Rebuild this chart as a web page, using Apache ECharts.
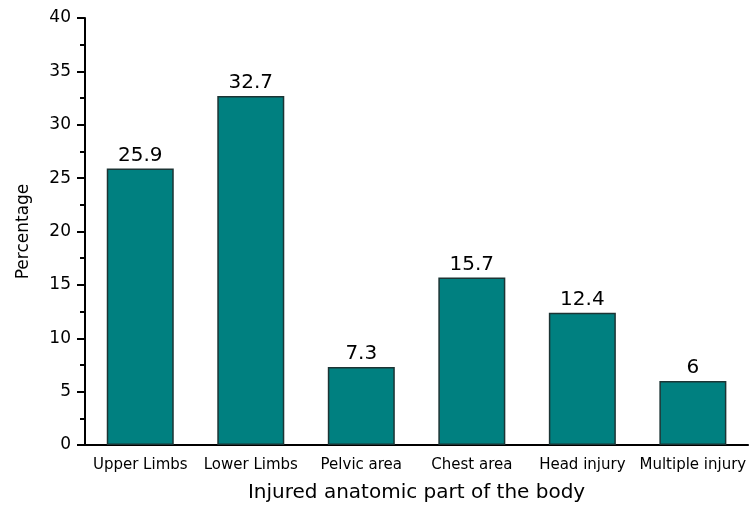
<!DOCTYPE html>
<html>
<head>
<meta charset="utf-8">
<script src="https://cdn.jsdelivr.net/npm/echarts@6/dist/echarts.min.js"></script>
<style>
  html, body { margin: 0; padding: 0; background: #fff; }
  #chart { width: 749px; height: 508px; }
</style>
</head>
<body>
<div id="chart"></div>
<script>
// Injury location shares (percent of cases)
const categories = ['Upper Limbs', 'Lower Limbs', 'Pelvic area', 'Chest area', 'Head injury', 'Multiple injury'];
const percentages = [25.9, 32.7, 7.3, 15.7, 12.4, 6];
const yTicks = { min: 0, max: 40, interval: 5 };

const font = '"DejaVu Sans", "Liberation Sans", Arial, sans-serif';
const chart = echarts.init(document.getElementById('chart'));

chart.setOption({
  animation: false,
  grid: { left: 85, top: 18, width: 666, height: 433, containLabel: false },
  xAxis: [
    {
      type: 'category',
      data: categories,
      position: 'bottom',
      name: 'Injured anatomic part of the body',
      nameLocation: 'middle',
      nameGap: 38,
      nameTextStyle: { fontFamily: font, fontSize: 20, color: '#000' },
      axisLine: { lineStyle: { color: '#000', width: 2 } },
      axisTick: { alignWithLabel: true, length: 8, lineStyle: { color: '#000', width: 2 } },
      axisLabel: { fontFamily: font, fontSize: 15, color: '#000', margin: 13, interval: 0 }
    },
    {
      // boundary ticks between categories
      type: 'category',
      data: categories,
      position: 'bottom',
      gridIndex: 0,
      axisLine: { show: false },
      axisTick: { alignWithLabel: false, length: 4, lineStyle: { color: '#000', width: 2 } },
      axisLabel: { show: false }
    }
  ],
  yAxis: {
    type: 'value',
    min: yTicks.min,
    max: yTicks.max,
    interval: yTicks.interval,
    name: 'Percentage',
    nameLocation: 'middle',
    nameGap: 53,
    nameTextStyle: { fontFamily: font, fontSize: 17, color: '#000' },
    axisLine: { show: true, lineStyle: { color: '#000', width: 2 } },
    axisTick: { show: true, length: 8, lineStyle: { color: '#000', width: 2 } },
    minorTick: { show: true, splitNumber: 2, length: 5, lineStyle: { color: '#000', width: 2 } },
    axisLabel: { fontFamily: font, fontSize: 17, color: '#000', margin: 14 },
    splitLine: { show: false }
  },
  series: [{
    type: 'bar',
    data: percentages,
    barWidth: 67,
    itemStyle: { color: '#008080', borderColor: '#1c3434', borderWidth: 1.5 },
    label: {
      show: true,
      position: 'top',
      distance: 3,
      fontFamily: font,
      fontSize: 20,
      color: '#000'
    }
  }]
});
</script>
</body>
</html>
